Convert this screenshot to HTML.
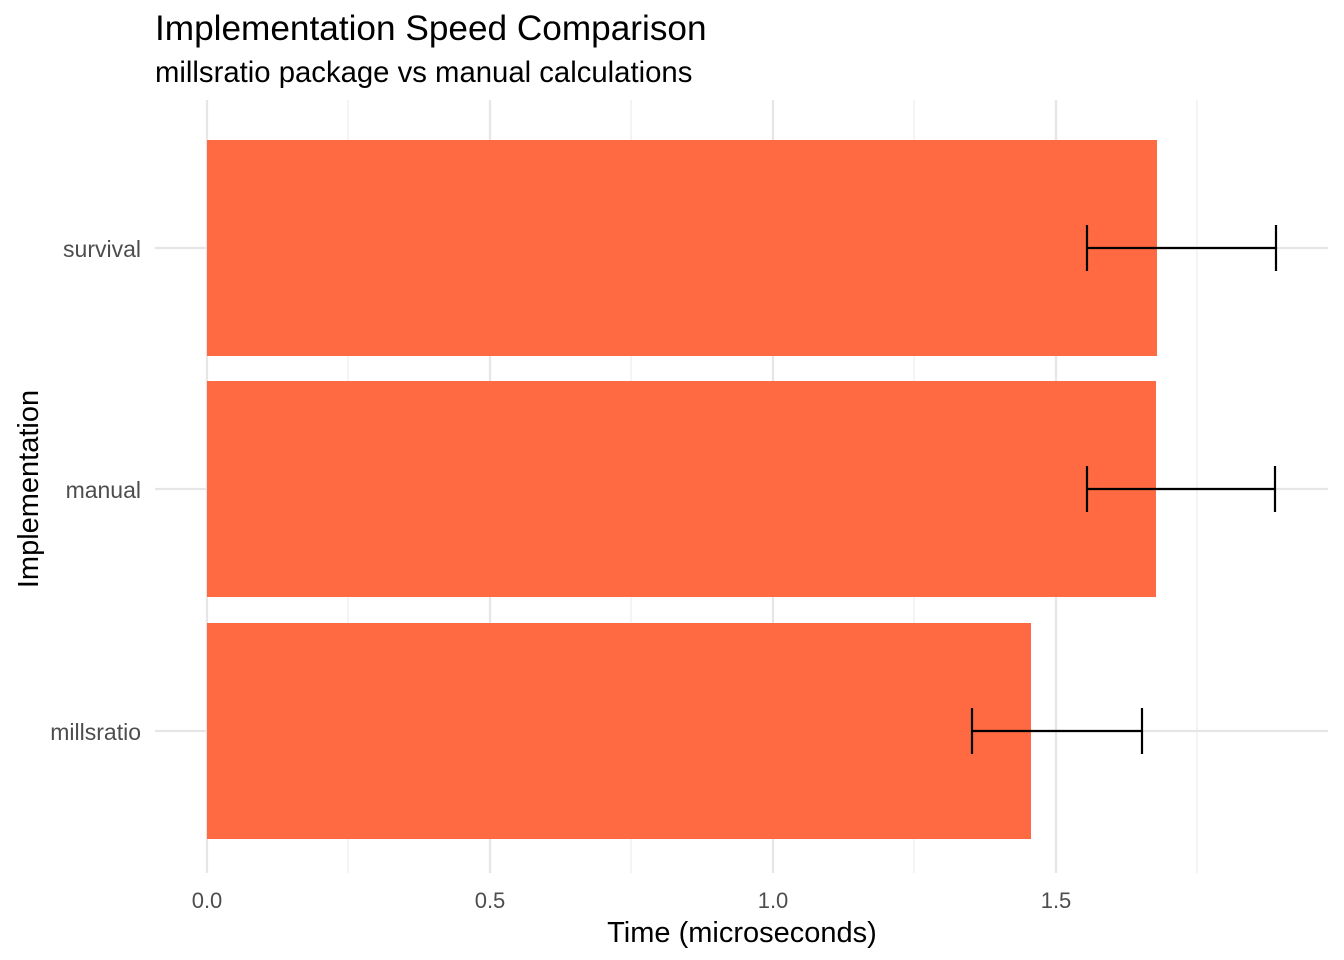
<!DOCTYPE html>
<html><head><meta charset="utf-8"><style>
html,body{margin:0;padding:0;background:#fff;}
svg{display:block;font-family:"Liberation Sans",sans-serif;}
</style></head><body>
<svg width="1344" height="960" viewBox="0 0 1344 960" xmlns="http://www.w3.org/2000/svg">
<rect width="1344" height="960" fill="#fff"/>
<g stroke="#ebebeb" stroke-width="1.1">
<line x1="348" y1="100" x2="348" y2="873"/>
<line x1="631" y1="100" x2="631" y2="873"/>
<line x1="914" y1="100" x2="914" y2="873"/>
<line x1="1197" y1="100" x2="1197" y2="873"/>
</g>
<g stroke="#e6e6e6" stroke-width="2.2">
<line x1="207" y1="100" x2="207" y2="873"/>
<line x1="490" y1="100" x2="490" y2="873"/>
<line x1="773" y1="100" x2="773" y2="873"/>
<line x1="1056" y1="100" x2="1056" y2="873"/>
<line x1="155" y1="248" x2="1328" y2="248"/>
<line x1="155" y1="489" x2="1328" y2="489"/>
<line x1="155" y1="731" x2="1328" y2="731"/>
</g>
<g fill="#ff6a43">
<rect x="207" y="140" width="950" height="216"/>
<rect x="207" y="381" width="949" height="216"/>
<rect x="207" y="623" width="824" height="216"/>
</g>
<g stroke="#000" stroke-width="2.2" fill="none">
<path d="M1087 248H1276M1087 225V271M1276 225V271"/>
<path d="M1087 489H1275M1087 466V512M1275 466V512"/>
<path d="M972 731H1142M972 708V754M1142 708V754"/>
</g>
<g fill="#4d4d4d" font-size="23">
<text x="141" y="257" text-anchor="end">survival</text>
<text x="141" y="498" text-anchor="end">manual</text>
<text x="141" y="740" text-anchor="end">millsratio</text>
</g>
<g fill="#4d4d4d" font-size="22">
<text x="207" y="908" text-anchor="middle">0.0</text>
<text x="490" y="908" text-anchor="middle">0.5</text>
<text x="773" y="908" text-anchor="middle">1.0</text>
<text x="1056" y="908" text-anchor="middle">1.5</text>
</g>
<text x="742" y="942" text-anchor="middle" font-size="29" fill="#000">Time (microseconds)</text>
<text transform="translate(38,489) rotate(-90)" text-anchor="middle" font-size="29" fill="#000">Implementation</text>
<text x="155" y="40" font-size="35.2" fill="#000">Implementation Speed Comparison</text>
<text x="155" y="82" font-size="29.3" fill="#000">millsratio package vs manual calculations</text>
</svg>
</body></html>
